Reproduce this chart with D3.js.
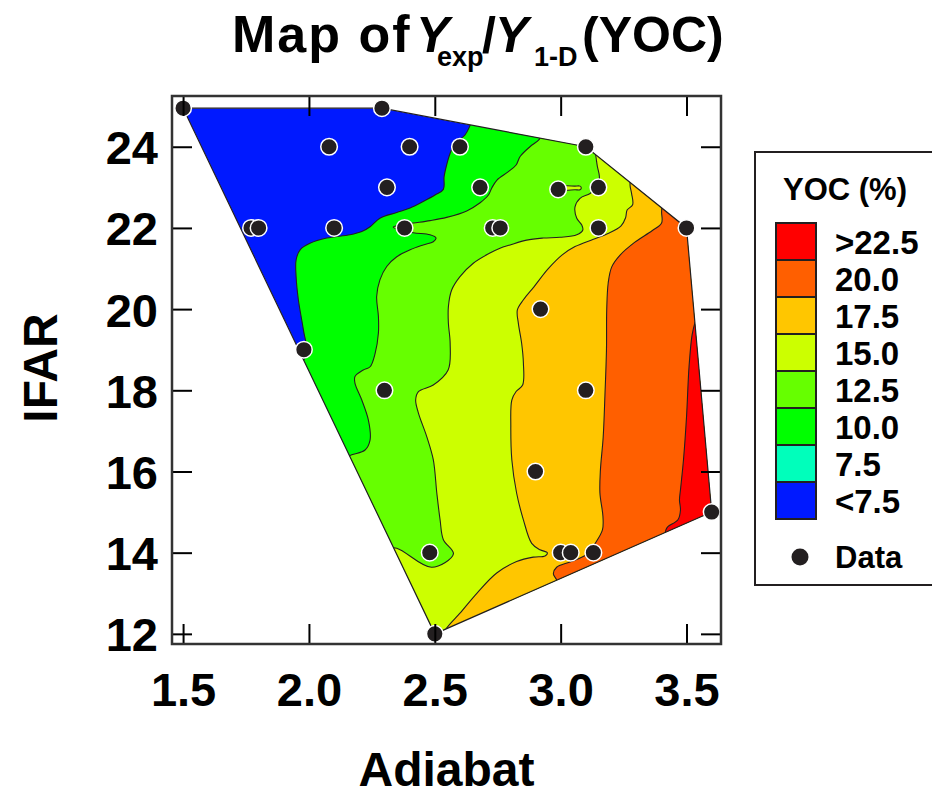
<!DOCTYPE html>
<html>
<head>
<meta charset="utf-8">
<script src="https://cdn.jsdelivr.net/npm/d3@7"></script>
<style>
  body { margin: 0; background: #fff; }
  svg { display: block; font-family: "Liberation Sans", Arial, Helvetica, sans-serif; font-weight: bold; }
</style>
</head>
<body>
<div id="chart"></div>
<script>
const xTicks = [1.5, 2.0, 2.5, 3.0, 3.5];
const yTicks = [12, 14, 16, 18, 20, 22, 24];

// measured runs (Adiabat, IFAR)
const dataAdiabat = [1.50, 2.29, 2.08, 2.40, 2.60, 3.10, 2.31, 2.68, 2.99, 3.15,
                     1.77, 1.80, 2.10, 2.38, 2.73, 2.76, 3.15, 3.50, 2.92, 1.98,
                     2.30, 3.10, 2.90, 3.60, 2.48, 3.00, 3.04, 3.13, 2.50];
const dataIFAR    = [24.95, 24.95, 24, 24, 24, 24, 23, 23, 22.95, 23,
                     22, 22, 22, 22, 22, 22, 22, 22, 20, 19,
                     18, 18, 16, 15, 14, 14, 14, 14, 12];

const legendLabels = ['>22.5', '20.0', '17.5', '15.0', '12.5', '10.0', '7.5', '<7.5'];
const legendColors = ['#ff0000', '#ff5f00', '#ffc600', '#ccff00', '#66ff00', '#00ff00', '#00ffbb', '#0019ff'];

// contour lines, each running from the top of the hull to the bottom
const line10 = [[2.656,24.78],[2.620,24.29],[2.580,24.09],[2.561,23.84],[2.547,23.55],[2.537,23.26],[2.534,22.95],
  [2.501,22.81],[2.454,22.65],[2.402,22.49],[2.349,22.38],[2.282,22.24],[2.243,22.03],[2.210,21.91],[2.163,21.83],
  [2.071,21.75],[2.004,21.62],[1.965,21.46],[1.949,21.21],[1.949,20.80],[1.958,20.23],[1.978,19.49],[1.991,18.91],[1.965,18.63]];
const line12 = [[2.922,24.29],[2.915,24.18],[2.878,24.00],[2.839,23.76],[2.823,23.55],[2.791,23.38],[2.747,23.18],
  [2.726,22.98],[2.713,22.81],[2.680,22.62],[2.627,22.42],[2.547,22.26],[2.481,22.18],[2.415,22.12],[2.362,22.07],
  [2.335,22.02],[2.349,21.97],[2.415,21.88],[2.481,21.83],[2.505,21.75],[2.494,21.66],[2.454,21.58],[2.402,21.46],
  [2.349,21.29],[2.309,21.05],[2.282,20.72],[2.269,20.31],[2.276,19.82],[2.276,19.41],[2.263,18.91],[2.243,18.58],
  [2.216,18.50],[2.183,18.34],[2.183,18.17],[2.210,17.76],[2.236,17.27],[2.243,16.78],[2.223,16.53],[2.170,16.41],[2.143,16.33]];
const line15 = [[3.133,24.02],[3.140,23.76],[3.146,23.51],[3.154,23.26],[3.148,23.03],[3.117,22.85],[3.077,22.73],
  [3.057,22.52],[3.064,22.24],[3.084,22.07],[3.088,21.95],[3.064,21.83],[2.997,21.77],[2.931,21.75],[2.865,21.70],
  [2.799,21.58],[2.759,21.50],[2.719,21.38],[2.653,21.13],[2.600,20.80],[2.567,20.47],[2.554,20.06],[2.554,19.65],
  [2.561,19.16],[2.553,18.50],[2.494,18.13],[2.435,17.97],[2.424,17.76],[2.435,17.44],[2.468,16.86],[2.494,16.29],
  [2.508,15.47],[2.521,14.81],[2.534,14.32],[2.574,13.97],[2.488,13.64],[2.349,14.11],[2.302,14.12]];
const island15 = [[3.009,23.02],[3.057,23.03],[3.077,23.03],[3.082,22.985],[3.077,22.94],[3.057,22.94],[3.009,22.94]];
const line17 = [[3.276,23.21],[3.276,23.03],[3.282,22.84],[3.286,22.57],[3.264,22.44],[3.258,22.25],[3.240,22.05],
  [3.188,21.86],[3.130,21.72],[3.057,21.54],[3.005,21.33],[2.950,20.99],[2.894,20.55],[2.852,20.23],[2.828,19.98],
  [2.832,19.65],[2.845,19.16],[2.852,18.67],[2.849,18.13],[2.823,17.97],[2.806,17.76],[2.802,17.11],[2.806,16.29],
  [2.825,15.47],[2.852,14.81],[2.885,14.23],[2.918,14.07],[2.947,14.00],[2.938,13.92],[2.891,13.89],[2.825,13.78],
  [2.746,13.50],[2.667,13.00],[2.600,12.51],[2.547,12.14],[2.533,11.95]];
const line20 = [[3.403,22.57],[3.401,22.39],[3.401,22.12],[3.363,21.93],[3.295,21.65],[3.236,21.33],[3.203,21.04],
  [3.189,20.65],[3.183,19.98],[3.182,18.99],[3.176,17.89],[3.169,16.85],[3.158,16.04],[3.156,15.47],[3.168,14.89],
  [3.166,14.56],[3.136,14.22],[3.101,13.95],[3.037,13.77],[2.984,13.64],[2.971,13.48],[2.984,13.33],[2.990,13.18]];
const line22 = [[3.534,19.68],[3.522,19.36],[3.510,18.58],[3.500,17.34],[3.488,16.29],[3.476,15.55],[3.472,15.30],
  [3.476,15.05],[3.466,14.81],[3.426,14.64],[3.418,14.56],[3.414,14.41]];

const contourLines = [line10, line12, line15, line17, line20, line22];
// fill colour for the region above each line (from the legend, low to high)
const bandColors = legendColors.slice(0, 6).reverse();

const W = 932, H = 796;
const margin = { top: 96, left: 172 };
const width = 549, height = 548;
const ink = '#231f20';

const svg = d3.select('#chart').append('svg')
    .attr('width', W)
    .attr('height', H);

const g = svg.append('g')
    .attr('transform', `translate(${margin.left},${margin.top})`);

const x = d3.scaleLinear().domain([1.456, 3.637]).range([0, width]);
const y = d3.scaleLinear().domain([11.75, 25.25]).range([height, 0]);

const points = d3.zip(dataAdiabat, dataIFAR);
const hull = d3.polygonHull(points);
const hullPath = 'M' + hull.map(d => `${x(d[0])},${y(d[1])}`).join('L') + 'Z';

svg.append('defs').append('clipPath')
    .attr('id', 'hull-clip')
  .append('path')
    .attr('d', hullPath);

const lineGen = d3.line()
    .x(d => x(d[0]))
    .y(d => y(d[1]))
    .curve(d3.curveCatmullRom.alpha(0.5));

// region on the high (right) side of a contour line
function bandPath(pts) {
    const first = pts[0], last = pts[pts.length - 1];
    return lineGen(pts)
        + `L${x(last[0])},${y(11)}L${x(4)},${y(11)}L${x(4)},${y(26)}L${x(first[0])},${y(26)}Z`;
}

const map = g.append('g').attr('clip-path', 'url(#hull-clip)');

map.append('path')
    .attr('d', hullPath)
    .attr('fill', legendColors[7]);

map.selectAll('path.band')
    .data(contourLines)
    .join('path')
    .attr('class', 'band')
    .attr('d', bandPath)
    .attr('fill', (d, i) => bandColors[i]);

map.selectAll('path.contour')
    .data(contourLines)
    .join('path')
    .attr('class', 'contour')
    .attr('d', lineGen)
    .attr('fill', 'none')
    .attr('stroke', ink)
    .attr('stroke-width', 1.1);

map.append('path')
    .attr('d', d3.line().x(d => x(d[0])).y(d => y(d[1])).curve(d3.curveCatmullRomClosed)(island15))
    .attr('fill', bandColors[2])
    .attr('stroke', ink)
    .attr('stroke-width', 1.1);

g.append('path')
    .attr('d', hullPath)
    .attr('fill', 'none')
    .attr('stroke', ink)
    .attr('stroke-width', 1.2);

g.selectAll('circle.pt')
    .data(points)
    .join('circle')
    .attr('class', 'pt')
    .attr('cx', d => x(d[0]))
    .attr('cy', d => y(d[1]))
    .attr('r', 8.3)
    .attr('fill', ink)
    .attr('stroke', '#fff')
    .attr('stroke-width', 1.5);

// axes: ticks inward on all four sides
const tickLen = 20;
const axisBottom = g.append('g')
    .attr('transform', `translate(0,${height})`)
    .call(d3.axisBottom(x).tickValues(xTicks).tickFormat(d3.format('.1f')).tickSize(-tickLen).tickPadding(29));
const axisTop = g.append('g')
    .call(d3.axisTop(x).tickValues(xTicks).tickFormat('').tickSize(-tickLen));
const axisLeft = g.append('g')
    .call(d3.axisLeft(y).tickValues(yTicks).tickSize(-tickLen).tickPadding(14));
const axisRight = g.append('g')
    .attr('transform', `translate(${width},0)`)
    .call(d3.axisRight(y).tickValues(yTicks).tickFormat('').tickSize(-tickLen));

[axisBottom, axisTop, axisLeft, axisRight].forEach(a => {
    a.select('.domain').remove();
    a.selectAll('line').attr('stroke', '#000').attr('stroke-width', 2);
    a.selectAll('text')
        .attr('fill', '#000')
        .style('font-size', '47px')
        .style('font-family', '"Liberation Sans", Arial, sans-serif')
        .style('font-weight', 'bold');
});
axisLeft.selectAll('text').attr('dy', '0.36em');

g.append('rect')
    .attr('width', width)
    .attr('height', height)
    .attr('fill', 'none')
    .attr('stroke', '#333')
    .attr('stroke-width', 2.5);

// titles
const title = svg.append('text')
    .attr('y', 52)
    .style('font-size', '50px')
    .attr('fill', '#000');
title.append('tspan').attr('x', 232).style('font-size', '52px').style('letter-spacing', '2px').text('Map of');
title.append('tspan').attr('x', 416).style('font-style', 'italic').text('Y');
title.append('tspan').attr('x', 437).attr('dy', 14).style('font-size', '27px').text('exp');
title.append('tspan').attr('x', 482).attr('dy', -14).text('/');
title.append('tspan').attr('x', 495).style('font-style', 'italic').text('Y');
title.append('tspan').attr('x', 534).attr('dy', 14).style('font-size', '27px').text('1-D');
title.append('tspan').attr('x', 582).attr('dy', -14).text('(YOC)');

svg.append('text')
    .attr('x', margin.left + width / 2)
    .attr('y', 786)
    .attr('text-anchor', 'middle')
    .style('font-size', '48px')
    .text('Adiabat');

svg.append('text')
    .attr('transform', `translate(57,${margin.top + height / 2 - 2}) rotate(-90)`)
    .attr('text-anchor', 'middle')
    .style('font-size', '48px')
    .text('IFAR');

// legend
const legend = svg.append('g').attr('transform', 'translate(755,152)');
legend.append('rect')
    .attr('width', 200)
    .attr('height', 433)
    .attr('fill', '#fff')
    .attr('stroke', ink)
    .attr('stroke-width', 2);
legend.append('text')
    .attr('x', 90)
    .attr('y', 48)
    .attr('text-anchor', 'middle')
    .style('font-size', '31px')
    .text('YOC (%)');

const rowH = 37, rowTop = 71;
const rows = legend.selectAll('g.row')
    .data(legendLabels)
    .join('g')
    .attr('class', 'row')
    .attr('transform', (d, i) => `translate(0,${rowTop + i * rowH})`);
rows.append('rect')
    .attr('x', 21)
    .attr('width', 40)
    .attr('height', rowH)
    .attr('fill', (d, i) => legendColors[i])
    .attr('stroke', ink)
    .attr('stroke-width', 2);
rows.append('text')
    .attr('x', 80)
    .attr('y', rowH / 2 + 12)
    .style('font-size', '33px')
    .text(d => d);

legend.append('circle')
    .attr('cx', 45)
    .attr('cy', 405)
    .attr('r', 8.5)
    .attr('fill', ink);
legend.append('text')
    .attr('x', 80)
    .attr('y', 416)
    .style('font-size', '31px')
    .text('Data');
</script>
</body>
</html>
